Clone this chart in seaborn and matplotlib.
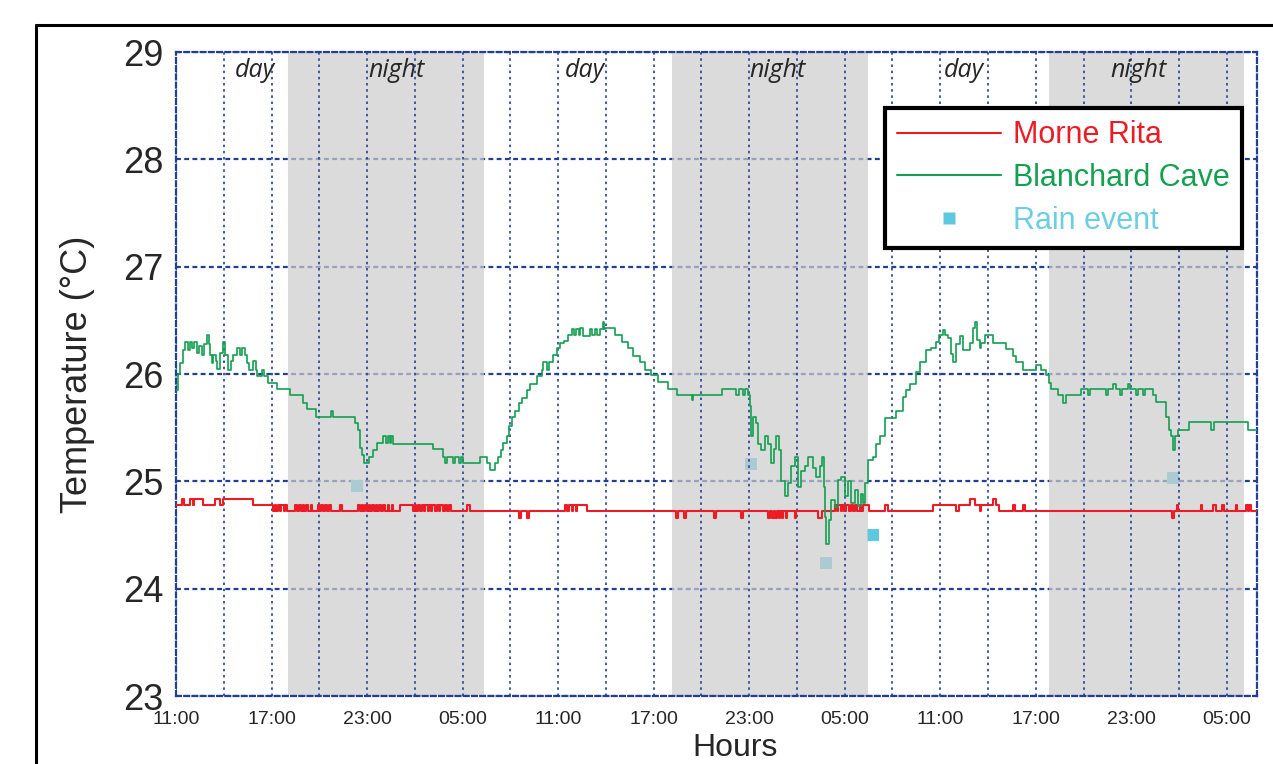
import matplotlib
matplotlib.use("Agg")
import numpy as np
import pandas as pd
import matplotlib.pyplot as plt
import seaborn as sns
from matplotlib.lines import Line2D

# ---- data (hours after 11:00 on day 1) ----
tick_labels = ["11:00", "17:00", "23:00", "05:00"] * 3

night_starts = [7.05, 31.18, 54.80]
night_ends = [19.36, 43.48, 67.06]

period_labels = ["day", "night", "day", "night", "day", "night"]
period_hours = [4.96, 13.87, 25.67, 37.80, 49.47, 60.45]

rain_hours = [11.39, 36.10, 40.85, 43.80, 62.63]
rain_temps = [24.96, 25.16, 24.24, 24.50, 25.03]

green_hours = [
    0.00, 0.15, 0.25, 0.42, 0.56, 0.75, 0.85, 1.00, 1.15, 1.30,
    1.45, 1.60, 1.75, 1.93, 2.05, 2.15, 2.25, 2.35, 2.50, 2.60,
    2.75, 2.97, 3.10, 3.29, 3.45, 3.60, 3.80, 4.00, 4.15, 4.30,
    4.44, 4.60, 4.85, 5.00, 5.06, 5.40, 5.55, 5.75, 6.36, 7.16,
    8.00, 8.20, 8.79, 9.73, 9.88, 11.24, 11.45, 11.55, 11.66, 11.82,
    12.14, 12.39, 12.64, 13.01, 13.20, 13.30, 13.45, 13.52, 13.60, 16.15,
    16.74, 16.89, 17.00, 17.40, 17.50, 17.80, 17.90, 18.04, 19.08, 19.50,
    19.71, 20.03, 20.23, 20.40, 20.55, 20.76, 20.93, 21.07, 21.28, 21.55,
    21.76, 22.05, 22.26, 22.64, 22.96, 23.06, 23.30, 23.40, 23.69, 23.90,
    24.10, 24.35, 24.63, 24.84, 25.00, 25.15, 25.30, 25.40, 25.57, 26.00,
    26.10, 26.30, 26.45, 26.60, 26.80, 26.86, 26.93, 27.56, 27.98, 28.39,
    28.71, 29.13, 29.44, 29.86, 30.28, 30.90, 31.47, 32.40, 32.50, 34.26,
    35.20, 35.35, 35.61, 35.75, 35.93, 36.03, 36.14, 36.24, 36.45, 36.55,
    36.77, 36.97, 37.18, 37.39, 37.55, 37.71, 37.87, 38.02, 38.23, 38.44,
    38.65, 38.86, 39.07, 39.28, 39.49, 39.69, 40.01, 40.22, 40.43, 40.60,
    40.68, 40.74, 40.85, 41.01, 41.16, 41.37, 41.58, 41.79, 42.00, 42.20,
    42.42, 42.62, 42.83, 43.04, 43.15, 43.25, 43.46, 43.77, 43.99, 44.19,
    44.51, 45.24, 45.66, 45.87, 46.08, 46.50, 46.70, 47.12, 47.44, 47.75,
    47.92, 48.17, 48.30, 48.48, 48.69, 48.80, 49.01, 49.22, 49.42, 49.89,
    50.05, 50.16, 50.30, 50.47, 50.58, 50.78, 51.31, 52.15, 52.56, 52.78,
    53.19, 54.03, 54.34, 54.66, 54.86, 54.97, 55.39, 55.70, 55.91, 56.86,
    57.27, 57.40, 58.43, 58.55, 58.84, 59.05, 59.26, 59.40, 59.78, 59.90,
    60.31, 60.45, 60.72, 60.85, 61.35, 61.56, 62.19, 62.35, 62.50, 62.60,
    62.75, 62.92, 63.65, 65.02, 65.22, 67.31, 67.96,
]
green_temps = [
    25.85, 26.00, 26.10, 26.22, 26.30, 26.22, 26.30, 26.24, 26.30, 26.20,
    26.26, 26.18, 26.28, 26.36, 26.28, 26.18, 26.10, 26.18, 26.12, 26.05,
    26.20, 26.30, 26.18, 26.04, 26.12, 26.18, 26.24, 26.18, 26.24, 26.18,
    26.10, 26.04, 26.12, 26.04, 25.98, 26.04, 25.98, 25.92, 25.86, 25.80,
    25.73, 25.67, 25.60, 25.66, 25.60, 25.54, 25.48, 25.31, 25.25, 25.17,
    25.23, 25.29, 25.36, 25.42, 25.36, 25.42, 25.36, 25.42, 25.35, 25.30,
    25.23, 25.17, 25.23, 25.17, 25.23, 25.17, 25.23, 25.17, 25.23, 25.17,
    25.11, 25.17, 25.23, 25.29, 25.36, 25.42, 25.52, 25.60, 25.66, 25.73,
    25.78, 25.85, 25.91, 25.98, 26.04, 26.11, 26.04, 26.11, 26.18, 26.24,
    26.29, 26.31, 26.36, 26.42, 26.36, 26.42, 26.36, 26.43, 26.35, 26.42,
    26.36, 26.42, 26.36, 26.42, 26.48, 26.42, 26.43, 26.36, 26.30, 26.24,
    26.17, 26.11, 26.04, 25.99, 25.93, 25.86, 25.80, 25.76, 25.80, 25.86,
    25.80, 25.86, 25.80, 25.86, 25.80, 25.70, 25.42, 25.60, 25.54, 25.35,
    25.29, 25.42, 25.35, 25.17, 25.30, 25.42, 25.29, 25.00, 24.86, 24.98,
    25.14, 25.23, 24.95, 25.10, 25.14, 25.23, 25.12, 25.04, 25.14, 25.23,
    24.95, 24.67, 24.42, 24.64, 24.83, 24.76, 25.01, 25.04, 24.86, 25.00,
    24.80, 24.92, 24.77, 24.88, 24.80, 24.98, 25.20, 25.23, 25.35, 25.42,
    25.59, 25.66, 25.79, 25.85, 25.91, 26.02, 26.11, 26.22, 26.24, 26.30,
    26.36, 26.41, 26.36, 26.34, 26.19, 26.11, 26.28, 26.35, 26.22, 26.29,
    26.43, 26.48, 26.32, 26.24, 26.29, 26.36, 26.29, 26.23, 26.17, 26.11,
    26.04, 26.08, 26.04, 25.99, 25.92, 25.86, 25.80, 25.73, 25.80, 25.86,
    25.80, 25.86, 25.80, 25.86, 25.91, 25.86, 25.80, 25.86, 25.91, 25.86,
    25.80, 25.86, 25.80, 25.86, 25.80, 25.74, 25.60, 25.48, 25.42, 25.29,
    25.42, 25.48, 25.55, 25.48, 25.55, 25.48, 25.48,
]

red_hours = [
    0.00, 0.36, 0.50, 0.88, 1.05, 1.13, 1.72, 2.45, 2.76, 2.97, 4.85, 6.11,
    6.20, 6.30, 6.40, 6.50, 6.60, 6.75, 6.85, 6.95,
    7.50, 7.60, 7.70, 7.85, 7.95, 8.05, 8.15, 8.30, 8.45, 8.55,
    8.90, 9.00, 9.10, 9.25, 9.35, 9.45, 9.60, 9.75,
    10.30, 10.40,
    11.40, 11.55, 11.65, 11.75, 11.85, 12.00, 12.10, 12.20, 12.30, 12.45,
    12.55, 12.65, 12.75, 12.90, 13.00, 13.10, 13.30, 13.40, 13.55, 13.65,
    14.06, 14.90,
    15.00, 15.10, 15.20, 15.35, 15.45, 15.55, 15.65, 15.80, 15.90, 16.00,
    16.10, 16.25, 16.40, 16.50, 16.60, 16.75, 16.90, 17.00, 17.15, 17.30,
    18.30, 18.45,
    21.55, 21.65, 22.05, 22.15,
    24.40, 24.55, 24.70, 24.85, 24.95, 25.10, 25.20, 25.80,
    31.40, 31.50, 31.90, 32.00, 33.80, 33.90, 35.50, 35.60,
    37.20, 37.30, 37.45, 37.55, 37.65, 37.75, 37.85, 37.95, 38.05, 38.15,
    38.30, 38.40, 38.85, 38.95,
    40.30, 40.60,
    41.40, 41.50, 41.60, 41.75, 41.85, 41.95, 42.10, 42.25, 42.40, 42.50,
    42.65, 42.80, 42.95, 43.05, 43.15, 43.50,
    44.55, 44.70,
    47.54, 49.00, 49.20, 49.84, 50.16, 50.47, 50.58, 51.30, 51.50, 51.70,
    52.56, 52.67, 53.20, 53.30,
    62.55, 62.65, 62.84, 62.92,
    64.35, 64.45, 65.15, 65.30, 65.70, 65.85, 66.55, 66.65, 67.20, 67.30,
    67.40, 67.50,
    67.96,
]
red_temps = [
    24.78, 24.84, 24.78, 24.84, 24.78, 24.84, 24.78, 24.84, 24.78, 24.84, 24.78, 24.72,
    24.78, 24.72, 24.78, 24.72, 24.78, 24.72, 24.78, 24.72,
    24.78, 24.72, 24.78, 24.72, 24.78, 24.72, 24.78, 24.72, 24.78, 24.72,
    24.78, 24.72, 24.78, 24.72, 24.78, 24.72, 24.78, 24.72,
    24.78, 24.72,
    24.78, 24.72, 24.78, 24.72, 24.78, 24.72, 24.78, 24.72, 24.78, 24.72,
    24.78, 24.72, 24.78, 24.72, 24.78, 24.72, 24.78, 24.72, 24.78, 24.72,
    24.78, 24.72,
    24.78, 24.72, 24.78, 24.72, 24.78, 24.72, 24.78, 24.72, 24.78, 24.72,
    24.78, 24.72, 24.78, 24.72, 24.78, 24.72, 24.78, 24.72, 24.78, 24.72,
    24.78, 24.72,
    24.66, 24.72, 24.66, 24.72,
    24.78, 24.72, 24.78, 24.72, 24.78, 24.72, 24.78, 24.72,
    24.66, 24.72, 24.66, 24.72, 24.66, 24.72, 24.66, 24.72,
    24.66, 24.72, 24.66, 24.72, 24.66, 24.72, 24.66, 24.72, 24.66, 24.72,
    24.66, 24.72, 24.66, 24.72,
    24.66, 24.72,
    24.78, 24.72, 24.78, 24.72, 24.78, 24.72, 24.78, 24.72, 24.78, 24.72,
    24.78, 24.72, 24.78, 24.72, 24.78, 24.72,
    24.78, 24.72,
    24.78, 24.72, 24.78, 24.84, 24.78, 24.72, 24.78, 24.84, 24.78, 24.72,
    24.78, 24.72, 24.78, 24.72,
    24.66, 24.72, 24.78, 24.72,
    24.78, 24.72, 24.78, 24.72, 24.78, 24.72, 24.78, 24.72, 24.78, 24.72,
    24.78, 24.72,
    24.72,
]
assert len(green_hours) == len(green_temps)
assert len(red_hours) == len(red_temps)

RED = "#ed1c24"
GREEN = "#13a050"
CYAN = "#5ec8e0"
BLUE = "#233f95"

sns.set_style("white")
plt.rcParams["font.family"] = ["Liberation Sans", "DejaVu Sans"]

fig = plt.figure(figsize=(12.73, 7.64), dpi=100)
ax = fig.add_axes([0.1383, 0.0890, 0.8492, 0.8429])

# horizontal grid sits below the night shading, vertical lines above it
ax.set_axisbelow(True)
ax.yaxis.grid(True, color=BLUE, linestyle=(0, (2.2, 1.5)), linewidth=1.6)
ax.xaxis.grid(False)

for s, e in zip(night_starts, night_ends):
    ax.axvspan(s, e, color="#cdcccc", alpha=0.7, lw=0, zorder=1)

for h in range(0, 67, 3):
    ax.axvline(h, color=BLUE, linestyle=(0, (1.5, 2.2)), linewidth=1.2, zorder=1.5)

rain_df = pd.DataFrame({"hour": rain_hours, "temp": rain_temps})
sns.scatterplot(data=rain_df, x="hour", y="temp", marker="s", s=75,
                color=CYAN, edgecolor="none", zorder=0.8, ax=ax)

red_df = pd.DataFrame({"hour": red_hours, "temp": red_temps})
green_df = pd.DataFrame({"hour": green_hours, "temp": green_temps})
sns.lineplot(data=red_df, x="hour", y="temp", color=RED, lw=1.5,
             drawstyle="steps-post", estimator=None, sort=False, zorder=3, ax=ax)
sns.lineplot(data=green_df, x="hour", y="temp", color=GREEN, lw=1.2,
             drawstyle="steps-post", estimator=None, sort=False, zorder=3, ax=ax)

for lab, h in zip(period_labels, period_hours):
    ax.text(h, 28.83, lab, family="Open Sans", style="italic", fontsize=18,
            ha="center", va="center", zorder=4)

ax.set_xlim(0, 67.9)
ax.set_ylim(23, 29)
ax.set_xticks(range(0, 67, 6))
ax.set_xticklabels(tick_labels)
ax.set_yticks(range(23, 30))
ax.tick_params(axis="x", length=0, pad=11, labelsize=14)
ax.tick_params(axis="y", length=0, pad=9, labelsize=26)

ax.set_xlabel("Hours", fontsize=23)
ax.set_ylabel("Temperature (\u00b0C)", fontsize=26)
ax.xaxis.set_label_coords(0.517, -0.057)
ax.yaxis.set_label_coords(-0.075, 0.5)

for sp in ax.spines.values():
    sp.set_color(BLUE)
    sp.set_linestyle((0, (2.2, 1.5)))
    sp.set_linewidth(1.6)

handles = [
    Line2D([], [], color=RED, lw=1.5),
    Line2D([], [], color=GREEN, lw=1.5),
    Line2D([], [], color=CYAN, marker="s", ms=9, lw=0, markeredgecolor="none"),
]
leg = ax.legend(handles, ["Morne Rita", "Blanchard Cave", "Rain event"],
                loc="upper right", bbox_to_anchor=(0.986, 0.913), borderaxespad=0,
                fontsize=22, handlelength=3.4, handletextpad=0.4, labelspacing=0.42,
                borderpad=0.4, fancybox=False, framealpha=1, edgecolor="black")
leg.get_frame().set_linewidth(3)
leg.set_zorder(5)
for t, c in zip(leg.get_texts(), [RED, GREEN, "#6ccde3"]):
    t.set_color(c)

# outer frame of the original figure
fig.add_artist(Line2D([0.0283, 0.0283], [0.0, 0.9673], color="black", lw=2.2))
fig.add_artist(Line2D([0.0283, 1.0], [0.9673, 0.9673], color="black", lw=2.2))

fig.savefig("out.png", dpi=100)
